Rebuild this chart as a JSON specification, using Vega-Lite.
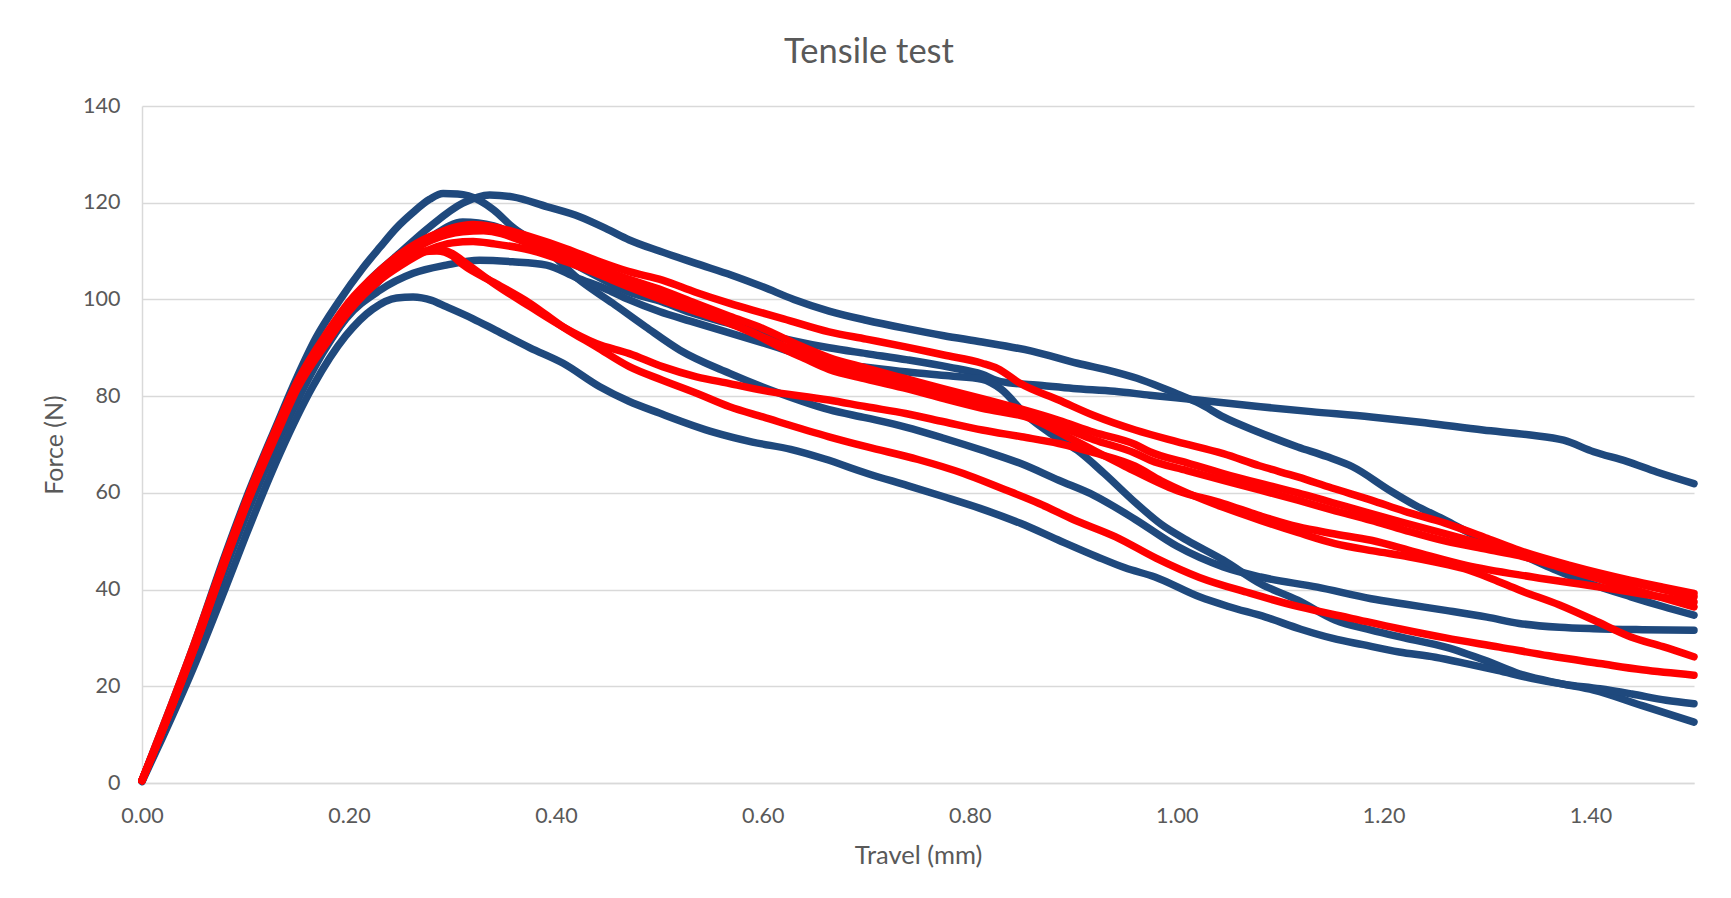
{
  "$schema": "https://vega.github.io/schema/vega-lite/v6.json",
  "width": 1552,
  "height": 677,
  "autosize": {"type": "none"},
  "padding": {"left": 142, "top": 106, "right": 37, "bottom": 115},
  "background": "white",
  "title": {"text": "Tensile test", "font": "Lato", "fontSize": 34.5, "fontWeight": "normal", "color": "#595959", "anchor": "middle", "dx": -49, "offset": 25},
  "datasets": {
    "blue": [
      {"s":"BA","x":0,"y":0.5},{"s":"BA","x":0.02,"y":11},{"s":"BA","x":0.05,"y":27.5},{"s":"BA","x":0.08,"y":45},{"s":"BA","x":0.1,"y":57},{"s":"BA","x":0.13,"y":72},{"s":"BA","x":0.15,"y":82},{"s":"BA","x":0.18,"y":93},{"s":"BA","x":0.2,"y":99},{"s":"BA","x":0.22,"y":104},{"s":"BA","x":0.246,"y":109},{"s":"BA","x":0.278,"y":115},{"s":"BA","x":0.31,"y":119.9},{"s":"BA","x":0.336,"y":121.6},{"s":"BA","x":0.358,"y":121.2},{"s":"BA","x":0.391,"y":119.2},{"s":"BA","x":0.423,"y":117.1},{"s":"BA","x":0.45,"y":114.5},{"s":"BA","x":0.471,"y":112.3},{"s":"BA","x":0.5,"y":110},{"s":"BA","x":0.536,"y":107.4},{"s":"BA","x":0.57,"y":105},{"s":"BA","x":0.6,"y":102.6},{"s":"BA","x":0.63,"y":100},{"s":"BA","x":0.664,"y":97.6},{"s":"BA","x":0.7,"y":95.7},{"s":"BA","x":0.738,"y":94},{"s":"BA","x":0.775,"y":92.5},{"s":"BA","x":0.812,"y":91.2},{"s":"BA","x":0.86,"y":89.3},{"s":"BA","x":0.904,"y":86.8},{"s":"BA","x":0.94,"y":85},{"s":"BA","x":0.967,"y":83.3},{"s":"BA","x":1.0,"y":80.5},{"s":"BA","x":1.022,"y":78.5},{"s":"BA","x":1.045,"y":75.7},{"s":"BA","x":1.08,"y":72.5},{"s":"BA","x":1.117,"y":69.5},{"s":"BA","x":1.145,"y":67.5},{"s":"BA","x":1.17,"y":65.4},{"s":"BA","x":1.206,"y":60.5},{"s":"BA","x":1.23,"y":57.5},{"s":"BA","x":1.26,"y":54.3},{"s":"BA","x":1.285,"y":51.5},{"s":"BA","x":1.313,"y":48.8},{"s":"BA","x":1.34,"y":46.5},{"s":"BA","x":1.367,"y":44},{"s":"BA","x":1.4,"y":41.2},{"s":"BA","x":1.439,"y":38.5},{"s":"BA","x":1.47,"y":36.5},{"s":"BA","x":1.5,"y":34.7},
      {"s":"BB","x":0,"y":0.5},{"s":"BB","x":0.02,"y":11.5},{"s":"BB","x":0.05,"y":28.5},{"s":"BB","x":0.08,"y":47},{"s":"BB","x":0.1,"y":58.5},{"s":"BB","x":0.13,"y":74},{"s":"BB","x":0.15,"y":84},{"s":"BB","x":0.168,"y":92},{"s":"BB","x":0.19,"y":99.5},{"s":"BB","x":0.2135,"y":106.5},{"s":"BB","x":0.23,"y":110.8},{"s":"BB","x":0.246,"y":114.8},{"s":"BB","x":0.262,"y":118},{"s":"BB","x":0.278,"y":120.7},{"s":"BB","x":0.291,"y":121.9},{"s":"BB","x":0.305,"y":121.8},{"s":"BB","x":0.326,"y":120.5},{"s":"BB","x":0.34,"y":118.5},{"s":"BB","x":0.358,"y":115},{"s":"BB","x":0.375,"y":112.5},{"s":"BB","x":0.391,"y":110.2},{"s":"BB","x":0.423,"y":104},{"s":"BB","x":0.455,"y":99.2},{"s":"BB","x":0.487,"y":94.3},{"s":"BB","x":0.52,"y":89.5},{"s":"BB","x":0.568,"y":84.7},{"s":"BB","x":0.616,"y":80.6},{"s":"BB","x":0.664,"y":77.2},{"s":"BB","x":0.7,"y":75.5},{"s":"BB","x":0.738,"y":73.6},{"s":"BB","x":0.775,"y":71.3},{"s":"BB","x":0.812,"y":68.8},{"s":"BB","x":0.85,"y":66},{"s":"BB","x":0.886,"y":62.6},{"s":"BB","x":0.92,"y":59.5},{"s":"BB","x":0.96,"y":54.5},{"s":"BB","x":1.0,"y":49},{"s":"BB","x":1.045,"y":44.7},{"s":"BB","x":1.081,"y":42.6},{"s":"BB","x":1.136,"y":40.5},{"s":"BB","x":1.188,"y":38.1},{"s":"BB","x":1.22,"y":37},{"s":"BB","x":1.26,"y":35.7},{"s":"BB","x":1.3,"y":34.3},{"s":"BB","x":1.331,"y":33},{"s":"BB","x":1.37,"y":32.2},{"s":"BB","x":1.403,"y":31.9},{"s":"BB","x":1.45,"y":31.7},{"s":"BB","x":1.5,"y":31.6},
      {"s":"BC","x":0,"y":0.5},{"s":"BC","x":0.02,"y":11},{"s":"BC","x":0.05,"y":27},{"s":"BC","x":0.08,"y":45},{"s":"BC","x":0.1,"y":56.5},{"s":"BC","x":0.13,"y":71},{"s":"BC","x":0.15,"y":80.5},{"s":"BC","x":0.18,"y":91},{"s":"BC","x":0.2,"y":97},{"s":"BC","x":0.23,"y":104},{"s":"BC","x":0.25,"y":108},{"s":"BC","x":0.28,"y":113},{"s":"BC","x":0.31,"y":116},{"s":"BC","x":0.34,"y":115.2},{"s":"BC","x":0.375,"y":111.5},{"s":"BC","x":0.42,"y":107},{"s":"BC","x":0.471,"y":101.5},{"s":"BC","x":0.503,"y":99.5},{"s":"BC","x":0.53,"y":97.3},{"s":"BC","x":0.568,"y":95},{"s":"BC","x":0.6,"y":93},{"s":"BC","x":0.664,"y":90},{"s":"BC","x":0.7,"y":88.8},{"s":"BC","x":0.74,"y":87.5},{"s":"BC","x":0.78,"y":86},{"s":"BC","x":0.812,"y":84.5},{"s":"BC","x":0.83,"y":83},{"s":"BC","x":0.87,"y":82.2},{"s":"BC","x":0.9,"y":81.6},{"s":"BC","x":0.94,"y":81},{"s":"BC","x":0.974,"y":80.2},{"s":"BC","x":1.02,"y":79.2},{"s":"BC","x":1.081,"y":77.8},{"s":"BC","x":1.13,"y":76.8},{"s":"BC","x":1.188,"y":75.7},{"s":"BC","x":1.24,"y":74.5},{"s":"BC","x":1.296,"y":73},{"s":"BC","x":1.34,"y":72},{"s":"BC","x":1.374,"y":70.9},{"s":"BC","x":1.403,"y":68.5},{"s":"BC","x":1.435,"y":66.5},{"s":"BC","x":1.464,"y":64.3},{"s":"BC","x":1.5,"y":61.9},
      {"s":"BF","x":0,"y":0.5},{"s":"BF","x":0.02,"y":10.5},{"s":"BF","x":0.05,"y":26},{"s":"BF","x":0.08,"y":44},{"s":"BF","x":0.1,"y":55},{"s":"BF","x":0.13,"y":70},{"s":"BF","x":0.15,"y":79},{"s":"BF","x":0.175,"y":89},{"s":"BF","x":0.197,"y":96},{"s":"BF","x":0.23,"y":101.9},{"s":"BF","x":0.262,"y":105.4},{"s":"BF","x":0.294,"y":107.1},{"s":"BF","x":0.326,"y":108.1},{"s":"BF","x":0.358,"y":107.8},{"s":"BF","x":0.391,"y":107.1},{"s":"BF","x":0.42,"y":104.5},{"s":"BF","x":0.45,"y":102},{"s":"BF","x":0.47,"y":100},{"s":"BF","x":0.5,"y":97.5},{"s":"BF","x":0.53,"y":95.5},{"s":"BF","x":0.6,"y":91},{"s":"BF","x":0.664,"y":87},{"s":"BF","x":0.7,"y":86},{"s":"BF","x":0.74,"y":85},{"s":"BF","x":0.78,"y":84.2},{"s":"BF","x":0.812,"y":83.5},{"s":"BF","x":0.83,"y":81.5},{"s":"BF","x":0.855,"y":76},{"s":"BF","x":0.88,"y":72},{"s":"BF","x":0.904,"y":68.8},{"s":"BF","x":0.93,"y":64},{"s":"BF","x":0.96,"y":58},{"s":"BF","x":0.985,"y":53.5},{"s":"BF","x":1.01,"y":50.2},{"s":"BF","x":1.045,"y":46.1},{"s":"BF","x":1.081,"y":41.2},{"s":"BF","x":1.117,"y":37.8},{"s":"BF","x":1.153,"y":33.7},{"s":"BF","x":1.188,"y":31.6},{"s":"BF","x":1.22,"y":30},{"s":"BF","x":1.26,"y":28.1},{"s":"BF","x":1.3,"y":25.2},{"s":"BF","x":1.331,"y":22.6},{"s":"BF","x":1.37,"y":20.6},{"s":"BF","x":1.403,"y":19.2},{"s":"BF","x":1.45,"y":16},{"s":"BF","x":1.5,"y":12.6},
      {"s":"BE","x":0,"y":0.3},{"s":"BE","x":0.02,"y":9.5},{"s":"BE","x":0.05,"y":24},{"s":"BE","x":0.08,"y":40},{"s":"BE","x":0.1,"y":51},{"s":"BE","x":0.133,"y":68},{"s":"BE","x":0.165,"y":82},{"s":"BE","x":0.197,"y":92.5},{"s":"BE","x":0.223,"y":98},{"s":"BE","x":0.246,"y":100.3},{"s":"BE","x":0.262,"y":100.5},{"s":"BE","x":0.28,"y":99.8},{"s":"BE","x":0.294,"y":98.5},{"s":"BE","x":0.32,"y":96},{"s":"BE","x":0.342,"y":93.6},{"s":"BE","x":0.375,"y":90},{"s":"BE","x":0.407,"y":86.8},{"s":"BE","x":0.442,"y":82},{"s":"BE","x":0.47,"y":79},{"s":"BE","x":0.5,"y":76.5},{"s":"BE","x":0.553,"y":72.5},{"s":"BE","x":0.59,"y":70.5},{"s":"BE","x":0.627,"y":69},{"s":"BE","x":0.66,"y":67},{"s":"BE","x":0.701,"y":64},{"s":"BE","x":0.74,"y":61.5},{"s":"BE","x":0.775,"y":59.2},{"s":"BE","x":0.81,"y":56.8},{"s":"BE","x":0.849,"y":53.7},{"s":"BE","x":0.885,"y":50.3},{"s":"BE","x":0.923,"y":46.8},{"s":"BE","x":0.95,"y":44.5},{"s":"BE","x":0.979,"y":42.6},{"s":"BE","x":1.022,"y":38.5},{"s":"BE","x":1.05,"y":36.5},{"s":"BE","x":1.086,"y":34.3},{"s":"BE","x":1.12,"y":31.8},{"s":"BE","x":1.151,"y":29.9},{"s":"BE","x":1.18,"y":28.6},{"s":"BE","x":1.215,"y":27.1},{"s":"BE","x":1.25,"y":26},{"s":"BE","x":1.28,"y":24.7},{"s":"BE","x":1.31,"y":23.3},{"s":"BE","x":1.344,"y":21.6},{"s":"BE","x":1.375,"y":20.4},{"s":"BE","x":1.409,"y":19.5},{"s":"BE","x":1.44,"y":18.4},{"s":"BE","x":1.473,"y":17.1},{"s":"BE","x":1.5,"y":16.4}
    ],
    "red": [
      {"s":"RT","x":0,"y":0.5},{"s":"RT","x":0.02,"y":11},{"s":"RT","x":0.05,"y":28},{"s":"RT","x":0.08,"y":46},{"s":"RT","x":0.1,"y":57.5},{"s":"RT","x":0.13,"y":73},{"s":"RT","x":0.15,"y":82.5},{"s":"RT","x":0.18,"y":93},{"s":"RT","x":0.2,"y":99},{"s":"RT","x":0.23,"y":105.5},{"s":"RT","x":0.25,"y":109},{"s":"RT","x":0.28,"y":113},{"s":"RT","x":0.3,"y":114.8},{"s":"RT","x":0.32,"y":115.5},{"s":"RT","x":0.34,"y":115},{"s":"RT","x":0.375,"y":113},{"s":"RT","x":0.41,"y":110.5},{"s":"RT","x":0.44,"y":108},{"s":"RT","x":0.47,"y":105.8},{"s":"RT","x":0.503,"y":104},{"s":"RT","x":0.535,"y":101.5},{"s":"RT","x":0.568,"y":99.2},{"s":"RT","x":0.59,"y":97.8},{"s":"RT","x":0.62,"y":96},{"s":"RT","x":0.664,"y":93.3},{"s":"RT","x":0.7,"y":91.8},{"s":"RT","x":0.738,"y":90.2},{"s":"RT","x":0.775,"y":88.5},{"s":"RT","x":0.812,"y":86.8},{"s":"RT","x":0.827,"y":85.7},{"s":"RT","x":0.849,"y":82.6},{"s":"RT","x":0.886,"y":79.2},{"s":"RT","x":0.92,"y":76},{"s":"RT","x":0.96,"y":73},{"s":"RT","x":1.0,"y":70.6},{"s":"RT","x":1.045,"y":68.1},{"s":"RT","x":1.08,"y":65.6},{"s":"RT","x":1.117,"y":63.3},{"s":"RT","x":1.15,"y":61},{"s":"RT","x":1.188,"y":58.5},{"s":"RT","x":1.22,"y":56.2},{"s":"RT","x":1.26,"y":53.7},{"s":"RT","x":1.3,"y":50.6},{"s":"RT","x":1.331,"y":48.1},{"s":"RT","x":1.38,"y":45},{"s":"RT","x":1.439,"y":41.9},{"s":"RT","x":1.47,"y":40.5},{"s":"RT","x":1.5,"y":39.2},
      {"s":"C1","x":0,"y":0.5},{"s":"C1","x":0.02,"y":11.5},{"s":"C1","x":0.05,"y":28.5},{"s":"C1","x":0.08,"y":46.5},{"s":"C1","x":0.1,"y":58},{"s":"C1","x":0.13,"y":73.5},{"s":"C1","x":0.15,"y":83},{"s":"C1","x":0.18,"y":93.5},{"s":"C1","x":0.2,"y":99.5},{"s":"C1","x":0.23,"y":106},{"s":"C1","x":0.25,"y":109.5},{"s":"C1","x":0.28,"y":113.2},{"s":"C1","x":0.31,"y":115},{"s":"C1","x":0.33,"y":114.8},{"s":"C1","x":0.375,"y":112.3},{"s":"C1","x":0.41,"y":109.5},{"s":"C1","x":0.44,"y":106.7},{"s":"C1","x":0.47,"y":104.2},{"s":"C1","x":0.503,"y":101.9},{"s":"C1","x":0.535,"y":99.2},{"s":"C1","x":0.568,"y":96.5},{"s":"C1","x":0.6,"y":94},{"s":"C1","x":0.63,"y":91},{"s":"C1","x":0.664,"y":88},{"s":"C1","x":0.7,"y":85.8},{"s":"C1","x":0.74,"y":83.5},{"s":"C1","x":0.775,"y":81.5},{"s":"C1","x":0.812,"y":79.5},{"s":"C1","x":0.85,"y":77.3},{"s":"C1","x":0.886,"y":75},{"s":"C1","x":0.92,"y":72.5},{"s":"C1","x":0.96,"y":70},{"s":"C1","x":0.974,"y":68.5},{"s":"C1","x":1.01,"y":66.2},{"s":"C1","x":1.045,"y":64},{"s":"C1","x":1.08,"y":62},{"s":"C1","x":1.117,"y":60},{"s":"C1","x":1.15,"y":58},{"s":"C1","x":1.188,"y":55.7},{"s":"C1","x":1.22,"y":53.8},{"s":"C1","x":1.26,"y":51.5},{"s":"C1","x":1.3,"y":49.2},{"s":"C1","x":1.331,"y":47.5},{"s":"C1","x":1.37,"y":45.3},{"s":"C1","x":1.403,"y":43.4},{"s":"C1","x":1.45,"y":41},{"s":"C1","x":1.5,"y":38.5},
      {"s":"C2","x":0,"y":0.5},{"s":"C2","x":0.02,"y":11},{"s":"C2","x":0.05,"y":28},{"s":"C2","x":0.08,"y":46},{"s":"C2","x":0.1,"y":57.5},{"s":"C2","x":0.13,"y":72.5},{"s":"C2","x":0.15,"y":82},{"s":"C2","x":0.18,"y":92.5},{"s":"C2","x":0.2,"y":98.5},{"s":"C2","x":0.23,"y":105},{"s":"C2","x":0.25,"y":108.5},{"s":"C2","x":0.28,"y":112.3},{"s":"C2","x":0.31,"y":114},{"s":"C2","x":0.33,"y":114.2},{"s":"C2","x":0.375,"y":111.5},{"s":"C2","x":0.41,"y":108.5},{"s":"C2","x":0.44,"y":105.5},{"s":"C2","x":0.47,"y":103},{"s":"C2","x":0.503,"y":100.5},{"s":"C2","x":0.535,"y":97.8},{"s":"C2","x":0.568,"y":95.2},{"s":"C2","x":0.6,"y":92.2},{"s":"C2","x":0.63,"y":89.5},{"s":"C2","x":0.664,"y":86.8},{"s":"C2","x":0.7,"y":84.6},{"s":"C2","x":0.74,"y":82.5},{"s":"C2","x":0.775,"y":80.5},{"s":"C2","x":0.812,"y":78.5},{"s":"C2","x":0.85,"y":76.2},{"s":"C2","x":0.886,"y":73.8},{"s":"C2","x":0.92,"y":71},{"s":"C2","x":0.96,"y":68.2},{"s":"C2","x":0.974,"y":66.8},{"s":"C2","x":1.01,"y":64.6},{"s":"C2","x":1.045,"y":62.6},{"s":"C2","x":1.08,"y":60.6},{"s":"C2","x":1.117,"y":58.5},{"s":"C2","x":1.15,"y":56.5},{"s":"C2","x":1.188,"y":54.3},{"s":"C2","x":1.22,"y":52.3},{"s":"C2","x":1.26,"y":50},{"s":"C2","x":1.3,"y":48.3},{"s":"C2","x":1.331,"y":47},{"s":"C2","x":1.37,"y":44.6},{"s":"C2","x":1.403,"y":42.5},{"s":"C2","x":1.45,"y":39.5},{"s":"C2","x":1.5,"y":36.4},
      {"s":"C3","x":0,"y":0.5},{"s":"C3","x":0.02,"y":11},{"s":"C3","x":0.05,"y":27.5},{"s":"C3","x":0.08,"y":45.5},{"s":"C3","x":0.1,"y":57},{"s":"C3","x":0.13,"y":72},{"s":"C3","x":0.15,"y":81.5},{"s":"C3","x":0.18,"y":91.5},{"s":"C3","x":0.2,"y":97.5},{"s":"C3","x":0.23,"y":104},{"s":"C3","x":0.25,"y":107},{"s":"C3","x":0.28,"y":110.5},{"s":"C3","x":0.3,"y":111.7},{"s":"C3","x":0.32,"y":112},{"s":"C3","x":0.34,"y":111.5},{"s":"C3","x":0.375,"y":110.2},{"s":"C3","x":0.41,"y":107.8},{"s":"C3","x":0.439,"y":105.4},{"s":"C3","x":0.47,"y":102.6},{"s":"C3","x":0.503,"y":99.9},{"s":"C3","x":0.535,"y":97.5},{"s":"C3","x":0.568,"y":95},{"s":"C3","x":0.6,"y":92},{"s":"C3","x":0.616,"y":90.2},{"s":"C3","x":0.64,"y":87.8},{"s":"C3","x":0.664,"y":85.5},{"s":"C3","x":0.7,"y":83.5},{"s":"C3","x":0.74,"y":81.5},{"s":"C3","x":0.775,"y":79.5},{"s":"C3","x":0.812,"y":77.5},{"s":"C3","x":0.86,"y":75.3},{"s":"C3","x":0.9,"y":71},{"s":"C3","x":0.95,"y":65.5},{"s":"C3","x":1.0,"y":60.5},{"s":"C3","x":1.045,"y":57.8},{"s":"C3","x":1.08,"y":55.3},{"s":"C3","x":1.117,"y":53},{"s":"C3","x":1.15,"y":51.6},{"s":"C3","x":1.188,"y":50.2},{"s":"C3","x":1.23,"y":47.8},{"s":"C3","x":1.28,"y":45},{"s":"C3","x":1.344,"y":42.6},{"s":"C3","x":1.409,"y":40.5},{"s":"C3","x":1.45,"y":39.1},{"s":"C3","x":1.5,"y":37.4},
      {"s":"R5","x":0,"y":0.5},{"s":"R5","x":0.02,"y":11},{"s":"R5","x":0.05,"y":27.5},{"s":"R5","x":0.08,"y":45.5},{"s":"R5","x":0.1,"y":57},{"s":"R5","x":0.13,"y":72.5},{"s":"R5","x":0.15,"y":82},{"s":"R5","x":0.18,"y":92},{"s":"R5","x":0.2,"y":98},{"s":"R5","x":0.23,"y":104.5},{"s":"R5","x":0.25,"y":107.8},{"s":"R5","x":0.27,"y":109.8},{"s":"R5","x":0.285,"y":110.4},{"s":"R5","x":0.3,"y":109.5},{"s":"R5","x":0.31,"y":108},{"s":"R5","x":0.342,"y":103},{"s":"R5","x":0.375,"y":98.5},{"s":"R5","x":0.407,"y":94.3},{"s":"R5","x":0.439,"y":90.9},{"s":"R5","x":0.471,"y":88.8},{"s":"R5","x":0.503,"y":86.1},{"s":"R5","x":0.536,"y":84},{"s":"R5","x":0.568,"y":82.6},{"s":"R5","x":0.6,"y":81.2},{"s":"R5","x":0.664,"y":79.2},{"s":"R5","x":0.7,"y":77.8},{"s":"R5","x":0.738,"y":76.4},{"s":"R5","x":0.775,"y":74.7},{"s":"R5","x":0.812,"y":73},{"s":"R5","x":0.85,"y":71.6},{"s":"R5","x":0.886,"y":70.2},{"s":"R5","x":0.92,"y":68.3},{"s":"R5","x":0.96,"y":65.5},{"s":"R5","x":0.985,"y":62.5},{"s":"R5","x":1.01,"y":60},{"s":"R5","x":1.045,"y":57},{"s":"R5","x":1.081,"y":54.3},{"s":"R5","x":1.117,"y":51.8},{"s":"R5","x":1.153,"y":49.5},{"s":"R5","x":1.19,"y":48},{"s":"R5","x":1.224,"y":46.8},{"s":"R5","x":1.25,"y":45.7},{"s":"R5","x":1.278,"y":44.3},{"s":"R5","x":1.305,"y":42.2},{"s":"R5","x":1.331,"y":39.9},{"s":"R5","x":1.37,"y":36.8},{"s":"R5","x":1.403,"y":33.7},{"s":"R5","x":1.439,"y":30.2},{"s":"R5","x":1.47,"y":28.2},{"s":"R5","x":1.5,"y":26.1},
      {"s":"R6","x":0,"y":0.5},{"s":"R6","x":0.02,"y":11},{"s":"R6","x":0.05,"y":28},{"s":"R6","x":0.08,"y":46},{"s":"R6","x":0.1,"y":57.5},{"s":"R6","x":0.13,"y":73},{"s":"R6","x":0.15,"y":82.5},{"s":"R6","x":0.18,"y":92.5},{"s":"R6","x":0.2,"y":98.5},{"s":"R6","x":0.23,"y":105},{"s":"R6","x":0.25,"y":108},{"s":"R6","x":0.27,"y":109.8},{"s":"R6","x":0.285,"y":110},{"s":"R6","x":0.3,"y":109},{"s":"R6","x":0.31,"y":107.2},{"s":"R6","x":0.342,"y":103.3},{"s":"R6","x":0.375,"y":99.2},{"s":"R6","x":0.407,"y":94.3},{"s":"R6","x":0.439,"y":90.2},{"s":"R6","x":0.471,"y":86.1},{"s":"R6","x":0.503,"y":83.3},{"s":"R6","x":0.536,"y":80.6},{"s":"R6","x":0.568,"y":77.8},{"s":"R6","x":0.6,"y":75.7},{"s":"R6","x":0.664,"y":71.6},{"s":"R6","x":0.701,"y":69.5},{"s":"R6","x":0.75,"y":66.9},{"s":"R6","x":0.794,"y":64},{"s":"R6","x":0.83,"y":61},{"s":"R6","x":0.867,"y":57.8},{"s":"R6","x":0.9,"y":54.5},{"s":"R6","x":0.941,"y":50.9},{"s":"R6","x":0.98,"y":46.5},{"s":"R6","x":1.022,"y":42.5},{"s":"R6","x":1.07,"y":39.3},{"s":"R6","x":1.119,"y":36.4},{"s":"R6","x":1.17,"y":34},{"s":"R6","x":1.215,"y":31.9},{"s":"R6","x":1.26,"y":30},{"s":"R6","x":1.312,"y":28.1},{"s":"R6","x":1.36,"y":26.3},{"s":"R6","x":1.409,"y":24.7},{"s":"R6","x":1.45,"y":23.4},{"s":"R6","x":1.5,"y":22.3}
    ]
  },
  "encoding": {
    "x": {
      "field": "x", "type": "quantitative",
      "scale": {"domain": [0, 1.5], "nice": false, "zero": false},
      "axis": {
        "values": [0, 0.2, 0.4, 0.6, 0.8, 1.0, 1.2, 1.4], "format": ".2f",
        "grid": false, "ticks": false, "labelFlush": false,
        "domainColor": "#D9D9D9", "domainWidth": 1.5,
        "labelFont": "Lato", "labelFontSize": 21.5, "labelColor": "#595959", "labelPadding": 22,
        "title": "Travel (mm)", "titleFont": "Lato", "titleFontSize": 25.5, "titleFontWeight": "normal", "titleColor": "#595959", "titlePadding": 17
      }
    },
    "y": {
      "field": "y", "type": "quantitative",
      "scale": {"domain": [0, 140], "nice": false},
      "axis": {
        "values": [0, 20, 40, 60, 80, 100, 120, 140],
        "grid": true, "gridColor": "#D9D9D9", "gridWidth": 1.5,
        "ticks": false, "labelFlush": false,
        "domainColor": "#D9D9D9", "domainWidth": 1.5,
        "labelFont": "Lato", "labelFontSize": 21.5, "labelColor": "#595959", "labelPadding": 22,
        "title": "Force (N)", "titleFont": "Lato", "titleFontSize": 25, "titleFontWeight": "normal", "titleColor": "#595959", "titlePadding": 15
      }
    },
    "detail": {"field": "s", "type": "nominal"}
  },
  "layer": [
    {"data": {"name": "blue"}, "mark": {"type": "line", "color": "#1F497D", "strokeWidth": 7.5, "strokeCap": "round", "strokeJoin": "round", "interpolate": "monotone"}},
    {"data": {"name": "red"}, "mark": {"type": "line", "color": "#FF0000", "strokeWidth": 7.5, "strokeCap": "round", "strokeJoin": "round", "interpolate": "monotone"}}
  ],
  "config": {"view": {"stroke": null}}
}
